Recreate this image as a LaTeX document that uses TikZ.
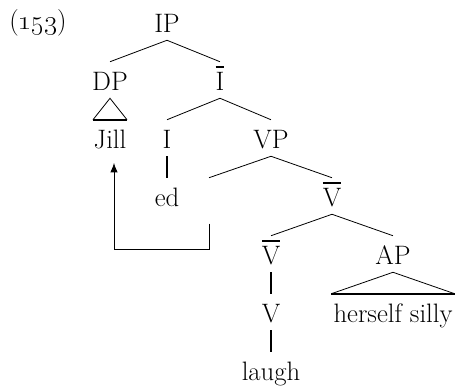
\documentclass[tikz,border=0pt]{standalone}
\usetikzlibrary{arrows.meta,calc}
\newcommand{\barcat}[1]{\setbox0\hbox{#1}\vbox{\hrule height 2pt width \wd0\kern 2.5pt\box0}}
\tikzset{
  cat/.style={inner sep=0pt, anchor=base, text height=21pt, text depth=6pt, font=\fontsize{20}{24}\selectfont},
  branch/.style={line width=0.6pt},
  unary/.style={line width=1.8pt},
  roof/.style={line width=0.6pt},
  move/.style={-{Latex[length=7pt,width=5.5pt]}, line width=0.6pt, shorten <=7pt, shorten >=5pt}
}

\begin{document}
\begin{tikzpicture}[x=0.75pt,y=-0.75pt]
  \useasboundingbox (0,0) rectangle (462,387);
  \node[cat] (num) at (38,29) {(\oldstylenums{153})};
  \node[cat] (ip) at (167,32) {IP};
  \node[cat] (dp) at (110,90) {DP};
  \node[cat] (ibar) at (220,90) {\barcat{I}};
  \node[cat] (jill) at (110,148) {Jill};
  \node[cat] (i) at (167,148) {I};
  \node[cat] (vp) at (271,148) {VP};
  \node[cat] (ed) at (167,206) {ed};
  \node[cat] (trace) at (209,206) {};
  \node[cat] (vbar) at (332,206) {\barcat{V}};
  \node[cat] (vbarb) at (271,264) {\barcat{V}};
  \node[cat] (ap) at (393,264) {AP};
  \node[cat] (v) at (271,322) {V};
  \node[cat] (hs) at (393,322) {herself silly};
  \node[cat] (laugh) at (271,380) {laugh};
  % branches
  \draw[branch] (dp.north) -- (ip.south) -- (ibar.north);
  \draw[branch] (i.north) -- (ibar.south) -- (vp.north);
  \draw[branch] (trace.north) -- (vp.south) -- (vbar.north);
  \draw[branch] (vbarb.north) -- (vbar.south) -- (ap.north);
  \draw[unary] (i.south) -- (ed.north);
  \draw[unary] (vbarb.south) -- (v.north);
  \draw[unary] (v.south) -- (laugh.north);
  % roofs
  \draw[roof] ($(jill.north)+(-17,0)$) -- (dp.south) -- ($(jill.north)+(17,0)$);
  \draw[unary] ($(jill.north)+(-17,0)$) -- ($(jill.north)+(17,0)$);
  \draw[roof] ($(hs.north west)+(-2,0)$) -- (ap.south) -- ($(hs.north east)+(2,0)$);
  \draw[unary] ($(hs.north west)+(-2,0)$) -- ($(hs.north east)+(2,0)$);
  % movement
  \coordinate (turn) at (114,249);
  \draw[move] (trace.south) |- (turn) -- (turn |- jill.south);
\end{tikzpicture}
\end{document}
